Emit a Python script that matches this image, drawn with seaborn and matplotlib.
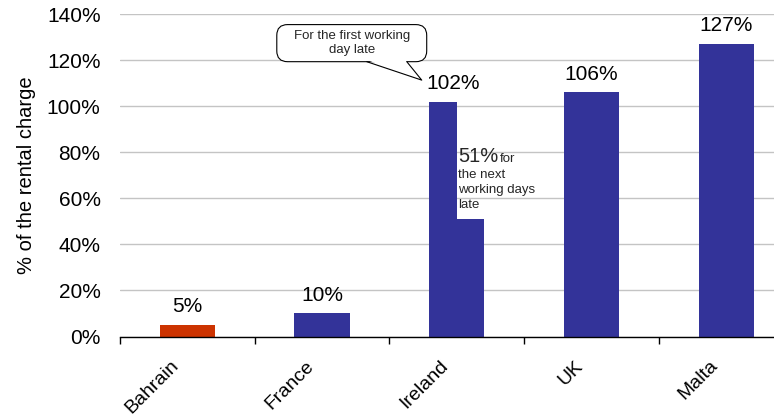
import numpy as np
import pandas as pd
import matplotlib
matplotlib.use('Agg')
from matplotlib import pyplot as plt
from matplotlib.patches import FancyBboxPatch, Polygon
from matplotlib.ticker import FuncFormatter
from matplotlib.transforms import ScaledTranslation
import seaborn as sb

# data
countries = ['Bahrain', 'France', 'Ireland', 'UK', 'Malta']
first_day = [5, 10, 102, 106, 127]
ireland_next_days = 51
bar_colors = ['#CC3300', '#333399', '#333399', '#333399', '#333399']
yticks = [0, 20, 40, 60, 80, 100, 120, 140]

sb.set_theme(style='white')
plt.rcParams['font.family'] = ['Liberation Sans', 'DejaVu Sans']

df = pd.DataFrame({'country': countries, 'charge': first_day})

# figure, axes placed so the right edge is cut like the original
fig = plt.figure(figsize=(7.74, 4.16), dpi=100)
fig.patch.set_facecolor('white')
ax = fig.add_axes([120 / 774, 1 - 336.5 / 416, 654 / 774, 322.5 / 416])

sb.barplot(data=df, x='country', y='charge', hue='country', order=countries,
           hue_order=countries, palette=dict(zip(countries, bar_colors)),
           width=0.41, saturation=1, legend=False, linewidth=0, ax=ax)

# Ireland: split bar, first day (left half) and next days (right half)
irl = countries.index('Ireland')
p = ax.containers[irl][0]
w = p.get_width()
p.set_width(w / 2)
ax.bar(p.get_x() + w * 0.75, ireland_next_days, width=w / 2,
       color=bar_colors[irl], linewidth=0, zorder=p.get_zorder())

ax.set_yticks(yticks)
ax.yaxis.set_major_formatter(FuncFormatter(lambda v, pos: f'{v:.0f}%'))
ax.yaxis.grid(True, color='#c4c4c4', lw=1)
ax.set_axisbelow(True)
for s in ['left', 'right', 'top']:
    ax.spines[s].set_visible(False)
ax.spines['bottom'].set_color('black')
ax.spines['bottom'].set_linewidth(1)

ax.set_xticks(range(len(countries)))
ax.set_xticklabels(countries, rotation=45, ha='right', rotation_mode='anchor',
                   fontsize=14, color='black')
ax.set_xticks(np.arange(-0.5, len(countries), 1), minor=True)
ax.tick_params(axis='x', which='major', length=0, pad=15)
ax.tick_params(axis='x', which='minor', length=5, width=1, color='black',
               direction='out', bottom=True)
ax.tick_params(axis='y', length=0, pad=14, labelsize=15, labelcolor='black')
shift = ScaledTranslation(-17 / 100, 0, fig.dpi_scale_trans)
for lab in ax.get_xticklabels():
    lab.set_transform(lab.get_transform() + shift)
ax.set_xlabel('')
ax.set_ylabel('% of the rental charge', fontsize=14.5, color='black', labelpad=8)

# limits last, set_xticks widens the view
ax.set_xlim(-0.5, -0.5 + 654 / 134.7)
ax.set_ylim(0, 140)

# value labels
for i, v in enumerate(first_day):
    x = i - 0.03 if i == irl else i
    ax.annotate(f'{v}%', xy=(x, v), xytext=(0, 9), textcoords='offset points',
                ha='center', va='baseline', fontsize=15, color='black')

# note for the next working days
ax.annotate(f'{ireland_next_days}%', xy=(irl, ireland_next_days), xytext=(1, 40.8),
            textcoords='offset points', ha='left', va='baseline', fontsize=14.5)
ax.annotate('for', xy=(irl, ireland_next_days), xytext=(31, 40.8),
            textcoords='offset points', ha='left', va='baseline', fontsize=9.5)
for line, dy in zip(['the next', 'working days', 'late'], [29.3, 18.5, 7.7]):
    ax.annotate(line, xy=(irl, ireland_next_days), xytext=(1, dy),
                textcoords='offset points', ha='left', va='baseline', fontsize=9.5)

# speech bubble callout
aspect = 134.7 / (322.5 / 140)
box = FancyBboxPatch((0.664, 119.3), 1.777 - 0.664, 135.4 - 119.3,
                     boxstyle='round,pad=0,rounding_size=0.08',
                     mutation_aspect=aspect, fc='white', ec='black', lw=0.8,
                     zorder=5, clip_on=False)
ax.add_patch(box)
tail = Polygon([(1.34, 119.3 + 0.6), (1.62, 119.3 + 0.6), (1.740, 111.3)],
               closed=True, fc='white', ec='none', zorder=6)
ax.add_patch(tail)
ax.plot([1.332, 1.740, 1.629], [119.3, 111.3, 119.3], color='black', lw=0.8,
        zorder=7)
ax.text(1.22, 127.4, 'For the first working\nday late', ha='center', va='center',
        fontsize=9.5, zorder=8, linespacing=1.15)

fig.savefig('out.png', dpi=100)
